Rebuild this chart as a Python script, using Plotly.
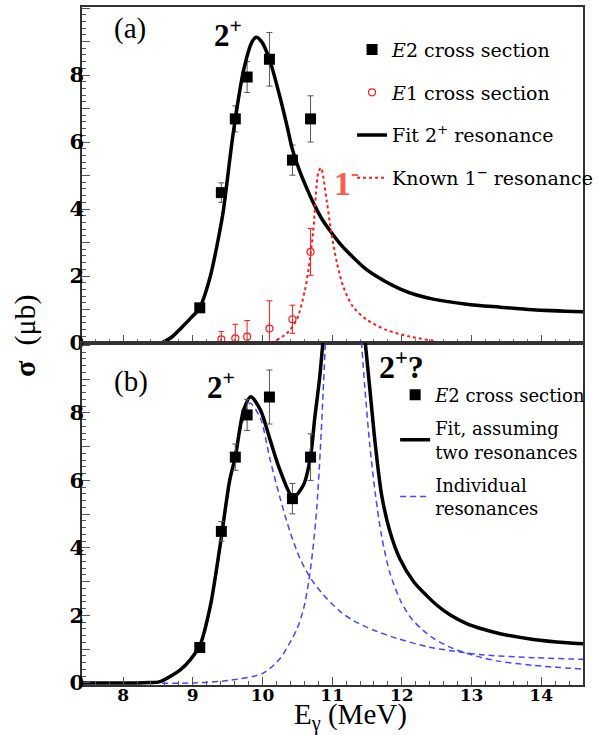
import plotly.graph_objects as go

SERIF = "Liberation Serif"
WIDE_SERIF = "DejaVu Serif"

# ---- measured data (E2 cross section, used in both panels) ----
e2_energy = [9.10, 9.41, 9.61, 9.78, 10.10, 10.43, 10.69]
e2_sigma = [1.05, 4.49, 6.69, 7.94, 8.47, 5.46, 6.69]
e2_error = [0.06, 0.29, 0.39, 0.46, 0.80, 0.45, 0.69]

# ---- E1 cross section (panel a) ----
e1_energy = [9.41, 9.61, 9.78, 10.10, 10.43, 10.69]
e1_sigma = [0.11, 0.14, 0.19, 0.43, 0.71, 2.72]
e1_error = [0.23, 0.42, 0.48, 0.83, 0.42, 0.70]

# ---- panel a: fit of the 2+ resonance ----
fit_a_energy = [8.55, 8.70, 8.82, 8.96, 9.10, 9.25, 9.39, 9.44, 9.58, 9.73, 9.85, 9.91,
                9.99, 10.10, 10.25, 10.35, 10.43, 10.54, 10.65, 10.75, 10.86, 10.97,
                11.10, 11.26, 11.50, 11.75, 11.98, 12.20, 12.45, 12.93, 13.41, 13.88, 14.60]
fit_a_sigma = [0.0, 0.18, 0.42, 0.72, 1.06, 1.98, 3.37, 3.97, 6.26, 8.15, 8.99, 9.13,
               8.99, 8.47, 7.35, 6.50, 5.78, 5.10, 4.55, 4.10, 3.68, 3.35,
               3.00, 2.64, 2.18, 1.85, 1.61, 1.44, 1.31, 1.16, 1.07, 0.99, 0.93]

# ---- panel a: known 1- resonance ----
known_energy = [10.13, 10.35, 10.49, 10.61, 10.68, 10.73, 10.80, 10.84, 10.92, 10.99,
                11.07, 11.16, 11.30, 11.50, 11.78, 12.12, 12.50]
known_sigma = [0.0, 0.29, 0.69, 1.58, 2.48, 3.37, 5.07, 5.23, 4.27, 3.27,
               2.38, 1.68, 1.08, 0.69, 0.39, 0.19, 0.05]

# ---- panel b: fit assuming two resonances (leaves the frame near 11.2 MeV) ----
fit_b_low_energy = [7.41, 8.30, 8.53, 8.82, 8.96, 9.10, 9.25, 9.39, 9.53, 9.61, 9.68,
                    9.73, 9.83, 9.97, 10.11, 10.25, 10.44, 10.59, 10.69, 10.75, 10.82, 10.88]
fit_b_low_sigma = [0.0, 0.01, 0.04, 0.39, 0.68, 1.10, 2.26, 4.04, 6.01, 6.70, 7.59,
                   8.09, 8.48, 8.09, 7.20, 6.31, 5.50, 5.87, 6.71, 7.84, 9.03, 10.4]
fit_b_high_energy = [11.46, 11.54, 11.62, 11.71, 11.83, 11.97, 12.17, 12.36, 12.50,
                     12.69, 12.93, 13.17, 13.41, 13.89, 14.37, 14.60]
fit_b_high_sigma = [10.4, 8.73, 7.05, 5.57, 4.48, 3.69, 3.00, 2.58, 2.31,
                    2.02, 1.76, 1.59, 1.46, 1.29, 1.19, 1.16]

# ---- panel b: individual resonances ----
res1_energy = [7.41, 8.30, 8.53, 8.82, 8.96, 9.10, 9.25, 9.39, 9.53, 9.68, 9.82, 9.97,
               10.11, 10.25, 10.40, 10.54, 10.68, 10.87, 11.11, 11.30, 11.59, 11.93,
               12.40, 12.79, 13.17, 13.89, 14.60]
res1_sigma = [0.0, 0.01, 0.04, 0.38, 0.66, 1.07, 2.20, 3.95, 5.90, 7.45, 8.29, 7.84,
              6.61, 5.50, 4.45, 3.68, 3.14, 2.62, 2.13, 1.85, 1.57, 1.32,
              1.06, 0.93, 0.83, 0.75, 0.70]
res2_low_energy = [7.41, 9.00, 9.53, 10.01, 10.25, 10.40, 10.50, 10.59, 10.66, 10.72,
                   10.78, 10.83, 10.87, 10.91]
res2_low_sigma = [0.0, 0.0, 0.08, 0.29, 0.72, 1.22, 1.62, 2.20, 2.95, 3.90,
                  5.20, 6.90, 8.60, 10.4]
res2_high_energy = [11.41, 11.47, 11.54, 11.62, 11.71, 11.83, 11.99, 12.14, 12.31,
                    12.45, 12.69, 12.93, 13.17, 13.41, 13.89, 14.60]
res2_high_sigma = [10.4, 8.73, 7.05, 5.60, 4.35, 3.25, 2.40, 1.90, 1.55,
                   1.33, 1.06, 0.88, 0.74, 0.64, 0.52, 0.41]

# ---- axes ----
x_range = [7.41, 14.6]
x_tick_vals = [8, 9, 10, 11, 12, 13, 14]
x_tick_text = ["8", "9", "10", "11", "12", "13", "14"]
y_tick_vals = [0, 1, 2, 3, 4, 5, 6, 7, 8, 9, 10]
y_tick_text = ["0", "", "2", "", "4", "", "6", "", "8", "", ""]

BLACK = "#000000"
RED = "#ff1a1a"
BLUE = "#4646ff"
ERR_GRAY = "#555555"

fig = go.Figure()

# Panel a traces
fig.add_trace(go.Scatter(
    x=e2_energy, y=e2_sigma, mode="markers", xaxis="x", yaxis="y",
    marker=dict(symbol="square", size=11, color=BLACK),
    error_y=dict(type="data", array=e2_error, color=ERR_GRAY, thickness=1, width=3),
    name="<i>E</i>2 cross section", legend="legend", legendgroup="a1", legendrank=1))
fig.add_trace(go.Scatter(
    x=e1_energy, y=e1_sigma, mode="markers", xaxis="x", yaxis="y",
    marker=dict(symbol="circle-open", size=7, color=RED, line=dict(width=1.2, color=RED)),
    error_y=dict(type="data", array=e1_error, color=RED, thickness=1, width=3),
    name="<i>E</i>1 cross section", legend="legend", legendgroup="a2", legendrank=2))
fig.add_trace(go.Scatter(
    x=fit_a_energy, y=fit_a_sigma, mode="lines", xaxis="x", yaxis="y",
    line=dict(color=BLACK, width=3.5, shape="spline", smoothing=0.8),
    name="Fit 2<sup>+</sup> resonance", legend="legend", legendgroup="a3", legendrank=3))
fig.add_trace(go.Scatter(
    x=known_energy, y=known_sigma, mode="lines", xaxis="x", yaxis="y",
    line=dict(color=RED, width=2, dash="dot", shape="spline", smoothing=0.8),
    name="Known 1<sup>−</sup> resonance", legend="legend", legendgroup="a4", legendrank=4))

# Panel b traces
ind_x = res1_energy + [None] + res2_low_energy + [None] + res2_high_energy
ind_y = res1_sigma + [None] + res2_low_sigma + [None] + res2_high_sigma
fit_b_x = fit_b_low_energy + [None] + fit_b_high_energy
fit_b_y = fit_b_low_sigma + [None] + fit_b_high_sigma

fig.add_trace(go.Scatter(
    x=ind_x, y=ind_y, mode="lines", xaxis="x2", yaxis="y2", connectgaps=False,
    line=dict(color=BLUE, width=1.5, dash="6px,4px", shape="spline", smoothing=0.8),
    name="Individual<br>resonances", legend="legend2", legendgroup="b3", legendrank=3))
fig.add_trace(go.Scatter(
    x=fit_b_x, y=fit_b_y, mode="lines", xaxis="x2", yaxis="y2", connectgaps=False,
    line=dict(color=BLACK, width=3.5, shape="spline", smoothing=0.8),
    name="Fit, assuming<br>two resonances", legend="legend2", legendgroup="b2", legendrank=2))
fig.add_trace(go.Scatter(
    x=e2_energy, y=e2_sigma, mode="markers", xaxis="x2", yaxis="y2",
    marker=dict(symbol="square", size=11, color=BLACK),
    error_y=dict(type="data", array=e2_error, color=ERR_GRAY, thickness=1, width=3),
    name="<i>E</i>2 cross section", legend="legend2", legendgroup="b1", legendrank=1))

x_tick_font = dict(family=WIDE_SERIF, size=17, color="black", weight="bold")
y_tick_font = dict(family=WIDE_SERIF, size=21, color="black", weight="bold")
axis_common = dict(
    showline=True, linecolor="#333333", linewidth=1.5, mirror=True,
    ticks="inside", ticklen=8, tickwidth=1, tickcolor="#555555",
    showgrid=False, zeroline=False,
)

fig.update_layout(
    width=602, height=735,
    margin=dict(l=82, r=19, t=7, b=50, autoexpand=False),
    paper_bgcolor="white", plot_bgcolor="white",
    font=dict(family=SERIF, color="black"),
    xaxis=dict(domain=[0, 1], range=x_range, anchor="y", tickvals=x_tick_vals,
               showticklabels=False, tickfont=x_tick_font,
               minor=dict(dtick=0.2, tick0=8, ticks="inside", ticklen=4, tickcolor="#777777"),
               **axis_common),
    yaxis=dict(domain=[0.5044, 1], range=[0, 10.03], anchor="x", tickvals=y_tick_vals,
               ticktext=y_tick_text, tickfont=y_tick_font, ticklabelstandoff=-8,
               minor=dict(dtick=0.2, tick0=0, ticks="inside", ticklen=4, tickcolor="#555555"),
               **axis_common),
    xaxis2=dict(domain=[0, 1], range=x_range, anchor="y2", tickvals=x_tick_vals,
                ticktext=x_tick_text, tickfont=x_tick_font, ticklabelstandoff=-6,
                minor=dict(dtick=0.2, tick0=8, ticks="inside", ticklen=4, tickcolor="#555555"),
                **axis_common),
    yaxis2=dict(domain=[0, 0.5044], range=[-0.06, 10.07], anchor="x2", tickvals=y_tick_vals,
                ticktext=y_tick_text, tickfont=y_tick_font, ticklabelstandoff=-8,
                minor=dict(dtick=0.2, tick0=0, ticks="inside", ticklen=4, tickcolor="#555555"),
                **axis_common),
    legend=dict(x=0.539, xanchor="left", y=0.965, yanchor="top",
                font=dict(family=WIDE_SERIF, size=19, color="black"),
                bgcolor="rgba(0,0,0,0)", traceorder="grouped", tracegroupgap=15),
    legend2=dict(x=0.625, xanchor="left", y=0.455, yanchor="top",
                 font=dict(family=WIDE_SERIF, size=18, color="black"),
                 bgcolor="rgba(0,0,0,0)", traceorder="grouped", tracegroupgap=7),
    showlegend=True,
)

annotations = [
    dict(text="(a)", x=8.1, y=9.4, xref="x", yref="y", showarrow=False,
         font=dict(family=SERIF, size=29, color="black")),
    dict(text="<b>2<sup>+</sup></b>", x=9.5, y=9.25, xref="x", yref="y", showarrow=False,
         font=dict(family=SERIF, size=31, color="black")),
    dict(text="<b>1<sup>-</sup></b>", x=11.2, y=4.85, xref="x", yref="y", showarrow=False,
         font=dict(family=SERIF, size=34, color="#ff5a4a")),
    dict(text="(b)", x=8.12, y=8.93, xref="x2", yref="y2", showarrow=False,
         font=dict(family=SERIF, size=29, color="black")),
    dict(text="<b>2<sup>+</sup></b>", x=9.4, y=8.8, xref="x2", yref="y2", showarrow=False,
         font=dict(family=SERIF, size=31, color="black")),
    dict(text="<b>2<sup>+</sup>?</b>", x=12.0, y=9.42, xref="x2", yref="y2", showarrow=False,
         font=dict(family=SERIF, size=32, color="black")),
    dict(text="<b>σ</b>&nbsp;&nbsp;(μb)", x=-0.114, y=0.5147, xref="paper", yref="paper",
         xanchor="center", yanchor="middle",
         showarrow=False, textangle=-90, font=dict(family=SERIF, size=30, color="black")),
    dict(text="E<sub>γ</sub> (MeV)", x=0.535, y=-0.046, xref="paper", yref="paper",
         xanchor="center", yanchor="middle",
         showarrow=False, font=dict(family=SERIF, size=29, color="black")),
]
fig.update_layout(annotations=annotations)

fig.write_html("out.html", config={"displayModeBar": False})

# remove the browser's default page margin so the figure sits at the window origin
with open("out.html", "r", encoding="utf-8") as fh:
    html = fh.read()
html = html.replace("<head>", "<head><style>html,body{margin:0;padding:0;}</style>", 1)
with open("out.html", "w", encoding="utf-8") as fh:
    fh.write(html)
